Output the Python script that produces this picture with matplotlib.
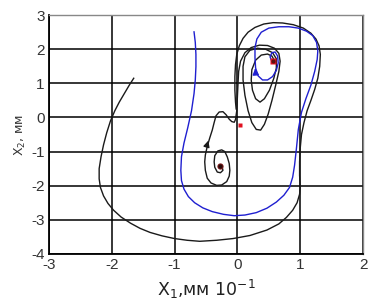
import matplotlib
matplotlib.use("Agg")
import matplotlib.pyplot as plt

plt.rcParams["axes.unicode_minus"] = False

# === data (x in mm*10^-1, y in mm) ===
# outer black trajectory
outer_x = [-1.65, -1.72, -1.8, -1.88, -1.95, -2.02, -2.08, -2.13, -2.17, -2.2, -2.2,
           -2.18, -2.13, -2.06, -1.97, -1.85, -1.7, -1.55, -1.39, -1.2, -1.0, -0.8,
           -0.6, -0.33, -0.07, 0.2, 0.47, 0.66, 0.78, 0.88, 0.95, 0.99, 1.0, 0.99,
           0.99, 1.0, 1.02, 1.06, 1.11, 1.17, 1.23, 1.28, 1.31, 1.32, 1.3, 1.25, 1.17,
           1.05, 0.89, 0.72, 0.57, 0.42, 0.28, 0.17, 0.09, 0.03, -0.01, -0.03, -0.04,
           -0.04, -0.03, -0.02]
outer_y = [1.15, 0.95, 0.7, 0.45, 0.2, -0.1, -0.45, -0.8, -1.15, -1.5, -1.8,
           -2.05, -2.3, -2.52, -2.72, -2.92, -3.1, -3.25, -3.37, -3.47, -3.55, -3.6,
           -3.63, -3.6, -3.55, -3.46, -3.3, -3.12, -2.93, -2.72, -2.5, -2.25, -2.03, -1.7,
           -1.3, -0.9, -0.5, -0.15, 0.2, 0.5, 0.82, 1.15, 1.5, 1.85, 2.1, 2.3, 2.47,
           2.62, 2.72, 2.77, 2.78, 2.74, 2.64, 2.5, 2.32, 2.1, 1.85, 1.55,
           1.2, 0.8, 0.45, 0.25]

# black trajectory spiralling out of the left point into the right one
spiral_x = [-0.28, -0.24, -0.23, -0.27, -0.32, -0.36, -0.37, -0.36, -0.31, -0.25, -0.2,
            -0.16, -0.13, -0.12, -0.13, -0.17, -0.25, -0.33, -0.42, -0.48, -0.51, -0.52,
            -0.51, -0.48, -0.44, -0.4, -0.37, -0.34, -0.29, -0.23, -0.18, -0.13, -0.09,
            -0.05, -0.03, -0.01, 0.0, 0.01, 0.02, 0.05, 0.12, 0.22, 0.35, 0.48, 0.59,
            0.66, 0.68, 0.66, 0.61, 0.55, 0.49, 0.43, 0.37, 0.3, 0.23, 0.17, 0.12, 0.09,
            0.09, 0.12, 0.2, 0.32, 0.45, 0.56, 0.62, 0.62, 0.58, 0.51, 0.43, 0.36, 0.29,
            0.24, 0.22, 0.23, 0.29, 0.38, 0.48, 0.55, 0.58, 0.57, 0.55]
spiral_y = [-1.43, -1.47, -1.55, -1.62, -1.6, -1.46, -1.3, -1.12, -0.98, -0.95, -1.0,
            -1.16, -1.35, -1.55, -1.72, -1.88, -1.98, -1.99, -1.92, -1.78, -1.55, -1.3,
            -1.1, -0.85, -0.6, -0.37, -0.15, 0.05, 0.16, 0.17, 0.08, -0.05, -0.12,
            -0.14, -0.06, 0.2, 0.6, 1.0, 1.35, 1.65, 1.9, 2.05, 2.12, 2.11, 2.03,
            1.88, 1.65, 1.35, 0.95, 0.5, 0.1, -0.2, -0.37, -0.35, -0.15, 0.2, 0.65, 1.1,
            1.5, 1.78, 1.97, 2.03, 2.0, 1.9, 1.72, 1.45, 1.15, 0.8, 0.55, 0.45, 0.55,
            0.8, 1.1, 1.4, 1.68, 1.83, 1.86, 1.8, 1.7, 1.64, 1.63]

# blue trajectory
blue_x = [-0.69, -0.67, -0.66, -0.66, -0.67, -0.69, -0.73, -0.79, -0.85, -0.89, -0.9,
          -0.89, -0.85, -0.78, -0.68, -0.55, -0.4, -0.22, -0.05, 0.12, 0.3, 0.47, 0.62,
          0.74, 0.83, 0.88, 0.91, 0.94, 0.97, 1.02, 1.09, 1.17, 1.23, 1.27, 1.28, 1.26,
          1.2, 1.1, 0.97, 0.82, 0.66, 0.5, 0.38, 0.31, 0.28, 0.28, 0.29, 0.33, 0.4,
          0.48, 0.56, 0.62, 0.65, 0.64, 0.6, 0.55, 0.52, 0.54, 0.57]
blue_y = [2.51, 2.2, 1.85, 1.49, 1.1, 0.7, 0.2, -0.3, -0.75, -1.15, -1.55,
          -1.85, -2.1, -2.32, -2.5, -2.65, -2.76, -2.84, -2.88, -2.86, -2.79, -2.66, -2.48,
          -2.28, -2.05, -1.75, -1.4, -0.9, -0.35, 0.15, 0.55, 0.95, 1.35, 1.7, 1.95, 2.2,
          2.4, 2.53, 2.62, 2.66, 2.66, 2.62, 2.5, 2.3, 2.05, 1.75, 1.45, 1.22, 1.1,
          1.1, 1.2, 1.38, 1.6, 1.8, 1.92, 1.9, 1.78, 1.68, 1.65]

# equilibrium points
saddle = (0.04, -0.23)
focus_right = (0.57, 1.65)
focus_left = (-0.28, -1.43)

# === plot ===
fig = plt.figure(figsize=(3.85, 3.03), dpi=100)
ax = fig.add_axes([0.127, 0.162, 0.816, 0.788])

ax.plot(outer_x, outer_y, color="#1a1a1a", lw=1.0)
ax.plot(spiral_x, spiral_y, color="#1a1a1a", lw=1.0)
ax.plot(blue_x, blue_y, color="#1f1fd0", lw=1.0)

# direction arrows
ax.annotate("", xy=(-0.45, -0.6), xytext=(-0.49, -0.85),
            arrowprops=dict(arrowstyle="-|>", color="#1a1a1a", lw=1.0, mutation_scale=9))
ax.annotate("", xy=(0.28, 1.52), xytext=(0.29, 1.3),
            arrowprops=dict(arrowstyle="-|>", color="#1f1fd0", lw=1.0, mutation_scale=9))

ax.plot(*saddle, "s", color="#e01020", ms=3.5, mec="none")
ax.plot(*focus_right, "s", color="#e01020", ms=5, mec="none")
ax.plot(*focus_right, "o", color="#5a1010", ms=2)
ax.plot(*focus_left, "o", color="#7a1a1a", ms=4.5, mec="none")
ax.plot(*focus_left, "o", color="#2a0a0a", ms=2)

ax.set_xlim(-3, 2)
ax.set_ylim(-4, 3)
ax.set_xticks([-3, -2, -1, 0, 1, 2])
ax.set_yticks([-4, -3, -2, -1, 0, 1, 2, 3])
ax.grid(True, color="black", lw=1.1)
ax.set_axisbelow(True)
ax.tick_params(length=0, labelsize=11, labelcolor="#333333", pad=3)
for lab in ax.get_xticklabels() + ax.get_yticklabels():
    lab.set_family("Liberation Sans")

for side in ["left", "bottom"]:
    ax.spines[side].set_linewidth(1.3)
    ax.spines[side].set_color("black")
for side in ["top", "right"]:
    ax.spines[side].set_linewidth(1.0)
    ax.spines[side].set_color("#888888")

ax.set_xlabel("X$_1$,мм 10$^{-1}$", fontsize=12.5, color="#222222", labelpad=4)
ax.set_ylabel("X$_2$, мм", fontsize=9, color="#333333", labelpad=2)

fig.savefig("out.png", dpi=100)
